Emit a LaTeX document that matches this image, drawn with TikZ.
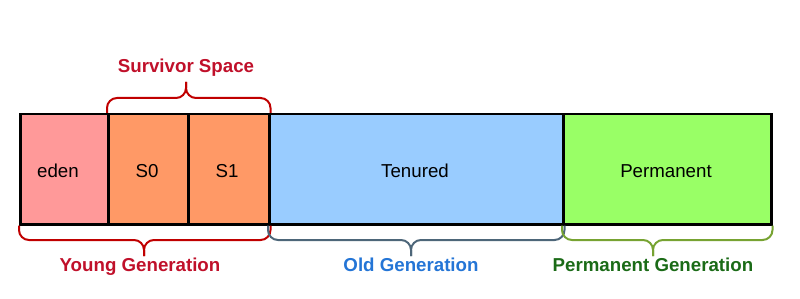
\documentclass[tikz,border=0pt]{standalone}
\usepackage{fontspec}
\setmainfont{Liberation Sans}
\definecolor{edenc}{HTML}{FF9999}
\definecolor{survc}{HTML}{FF9966}
\definecolor{tenc}{HTML}{99CCFF}
\definecolor{permc}{HTML}{99FF66}
\definecolor{redbr}{HTML}{C00000}
\definecolor{redtx}{HTML}{C0102A}
\definecolor{oldbr}{HTML}{4D6679}
\definecolor{oldtx}{HTML}{2475D6}
\definecolor{permbr}{HTML}{77A332}
\definecolor{permtx}{HTML}{1B6B17}
\begin{document}
\begin{tikzpicture}[x=1pt,y=-1pt,
  region/.style={draw=black,line width=2.5pt,inner sep=0pt,minimum height=110pt,anchor=north west},
  brace/.style={line width=2pt,rounded corners=10pt},
  lbl/.style={font=\fontsize{18.7}{20}\selectfont\bfseries,anchor=base,inner sep=0pt}]
\useasboundingbox (0,0) rectangle (800,299);
\node[region,fill=edenc,minimum width=88pt] (eden) at (19,113) {};
\node[region,fill=survc,minimum width=80pt] (s0) at (107,113) {};
\node[region,fill=survc,minimum width=81pt] (s1) at (187,113) {};
\node[region,fill=tenc,minimum width=294pt] (ten) at (268,113) {};
\node[region,fill=permc,minimum width=208pt] (perm) at (562,113) {};
\begin{scope}[every node/.style={font=\fontsize{18.7}{20}\selectfont,anchor=base,inner sep=0pt}]
\node (teden) at (58,178) {eden};
\node (ts0) at (147,178) {S0};
\node (ts1) at (227,178) {S1};
\node (tten) at (415,178) {Tenured};
\node (tperm) at (666,178) {Permanent};
\end{scope}
% top brace
\draw[brace,redbr] (s0.north west) -- (s0.north west |- 0,98) -- (186,98) -- (186,82);
\draw[brace,redbr] (s1.north east) -- (s1.north east |- 0,98) -- (186,98) -- (186,82);
\node[lbl,redtx] (surv) at (186,73) {Survivor Space};
% bottom braces
\draw[brace,redbr] (eden.south west) -- (eden.south west |- 0,240) -- (144,240) -- (144,256);
\draw[brace,redbr] (s1.south east) -- (s1.south east |- 0,240) -- (144,240) -- (144,256);
\node[lbl,redtx] (young) at (140,271) {Young Generation};
\draw[brace,oldbr] (ten.south west) -- (ten.south west |- 0,240) -- (411,240) -- (411,256);
\draw[brace,oldbr] (ten.south east) -- (ten.south east |- 0,240) -- (411,240) -- (411,256);
\node[lbl,oldtx] (old) at (411,271) {Old Generation};
\draw[brace,permbr] (perm.south west) -- (perm.south west |- 0,240) -- (653,240) -- (653,256);
\draw[brace,permbr] (perm.south east) -- (perm.south east |- 0,240) -- (653,240) -- (653,256);
\node[lbl,permtx] (permg) at (653,271) {Permanent Generation};
\end{tikzpicture}
\end{document}
